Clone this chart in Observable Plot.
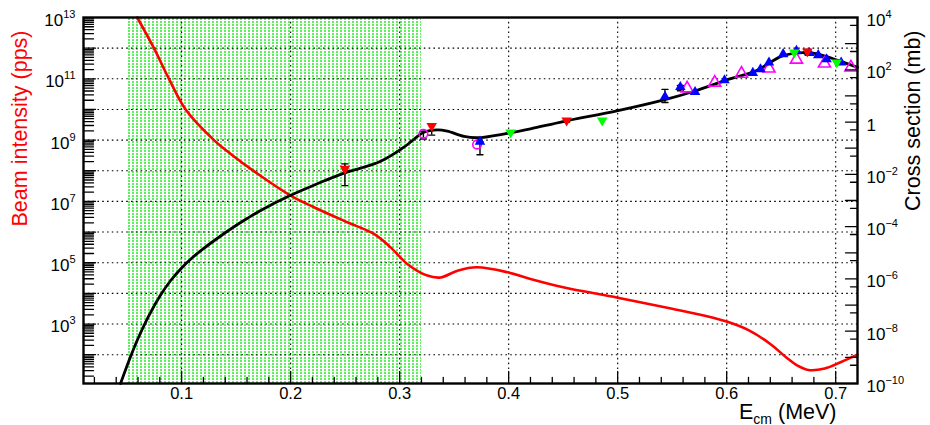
<!DOCTYPE html>
<html><head><meta charset="utf-8">
<script src="https://cdn.jsdelivr.net/npm/d3@7"></script>
<script src="https://cdn.jsdelivr.net/npm/@observablehq/plot@0.6"></script>
<style>
body{margin:0;background:#fff}
svg{font-family:"Liberation Sans",Arial,Helvetica,sans-serif}
</style>
</head><body><div id="chart"></div>
<script>
// ---------------- data ----------------
// Beam intensity (pps), left axis: energy (MeV) and log10(intensity)
const beamE   = [0.0593,0.0746,0.0884,0.1037,0.1297,0.145,0.169,0.200,0.2214,0.252,0.2765,0.2917,0.307,0.3254,0.3376,0.353,0.371,0.3988,0.420,0.45,0.50,0.55,0.58,0.60,0.62,0.64,0.655,0.665,0.675,0.69,0.705,0.72];
const beamLog = [13.0,12.0,11.0,10.0,9.0,8.55,7.92,7.19,6.81,6.32,5.94,5.50,4.96,4.58,4.52,4.74,4.85,4.69,4.47,4.2,3.86,3.5,3.27,3.08,2.80,2.35,1.90,1.64,1.50,1.55,1.76,2.0];
// Cross section (mb), right axis: energy and log10(sigma)
const xsE   = [0.044,0.0532,0.06,0.07,0.08,0.09,0.10,0.11,0.12,0.13,0.145,0.16,0.1725,0.20,0.225,0.2459,0.2826,0.304,0.3223,0.3346,0.3437,0.359,0.3713,0.3988,0.42,0.45,0.5003,0.5434,0.571,0.602,0.627,0.651,0.6697,0.682,0.7035,0.72];
const xsLog = [-10,-8.97,-8.28,-7.40,-6.66,-6.06,-5.58,-5.18,-4.84,-4.53,-4.09,-3.69,-3.38,-2.80,-2.35,-2.0,-1.50,-0.96,-0.39,-0.30,-0.35,-0.55,-0.60,-0.43,-0.26,0.02,0.44,0.86,1.19,1.64,1.96,2.53,2.66,2.62,2.34,2.09];
// measured points (log10 sigma)
const redDownE = [0.2498,0.3294,0.4532,0.674];
const redDownLog = [-1.79,-0.15,0.06,2.70];
const greenDownE = [0.4018,0.4858,0.662,0.701];
const greenDownLog = [-0.40,0.06,2.66,2.28];
const blueUpE = [0.3737,0.5434,0.5575,0.571,0.598,0.624,0.631,0.6388,0.6518,0.664,0.676,0.684,0.6917,0.705];
const blueUpLog = [-0.75,0.97,1.34,1.15,1.60,1.88,2.02,2.28,2.60,2.73,2.64,2.56,2.40,2.28];
const magTriE = [0.5637,0.589,0.6136,0.6388,0.664,0.6897,0.714];
const magTriLog = [1.29,1.51,1.85,2.05,2.39,2.24,2.09];
const magCircE = [0.3218,0.371];
const magCircLog = [-0.45,-0.86];
// error bars (log10 sigma)
const errE  = [0.2498,0.3294,0.3218,0.3737,0.4532,0.5434,0.5575,0.674];
const errLo = [-2.43,-0.50,-0.65,-1.25,0.00,0.75,1.20,2.60];
const errHi = [-1.60,-0.10,-0.35,-0.75,0.12,1.25,1.40,2.78];
// shaded band (MeV)
const bandE = [0.05, 0.32];
// ticks
const xMajor = [0.1,0.2,0.3,0.4,0.5,0.6,0.7];
const xLabels = ["0.1","0.2","0.3","0.4","0.5","0.6","0.7"];
const leftLabelExp = [3,5,7,9,11,13];
const rightLabelExp = [4,2,0,-2,-4,-6,-8,-10];

// ---------------- scales ----------------
const LEFT_LO = 1.06, LEFT_HI = 13, RIGHT_LO = -10, RIGHT_HI = 4;
const toLeft = lg => Math.pow(10, LEFT_LO + (lg - RIGHT_LO) * (LEFT_HI - LEFT_LO) / (RIGHT_HI - RIGHT_LO));
const X0 = 0.01, X1 = 0.72;

const beam = beamE.map((e,i)=>({e, v: Math.pow(10, beamLog[i])}));
const xs = xsE.map((e,i)=>({e, v: toLeft(xsLog[i])}));
const pts = (E,L)=>E.map((e,i)=>({e, v: toLeft(L[i])}));
const errs = errE.map((e,i)=>({e, lo: toLeft(errLo[i]), hi: toLeft(errHi[i])}));

const xMinor = d3.range(1, 36).map(k => k*0.02).filter(v => v > X0 && v < X1 && Math.abs(v*10 - Math.round(v*10)) > 1e-6);
const leftMajor = d3.range(2, 13).map(k => Math.pow(10,k));
const leftMinor = [];
for (let k = 1; k <= 12; k++) for (let m = 2; m <= 9; m++) { const v = m*Math.pow(10,k); if (v > Math.pow(10,LEFT_LO) && v < 1e13) leftMinor.push(v); }
const rightMajor = d3.range(-9, 4).map(k => toLeft(k));
const rightMinor = d3.range(-10, 4).map(k => toLeft(k + Math.log10(5)));

const tickShape = {draw(ctx, l){ ctx.moveTo(0,0); ctx.lineTo(0,-l); }};
const downTri = {draw(ctx, size){
  const y = Math.sqrt(size / (Math.sqrt(3)*3));
  ctx.moveTo(0, y*2); ctx.lineTo(-Math.sqrt(3)*y, -y); ctx.lineTo(Math.sqrt(3)*y, -y); ctx.closePath();
}};

const grid = {stroke:"#000", strokeWidth:1.1, strokeDasharray:"1.6,3.2"};

const plot = Plot.plot({
  width: 930, height: 425,
  marginLeft: 83, marginRight: 73, marginTop: 17, marginBottom: 42,
  x: {domain:[X0,X1], axis:null},
  y: {type:"log", domain:[Math.pow(10,LEFT_LO), 1e13], axis:null},
  style: {background:"#fff", overflow:"visible"},
  marks: [
    Plot.rect([bandE], {x1: d=>d[0], x2: d=>d[1], fill:"#00ee00"}),
    Plot.ruleX(xMajor, {...grid}),
    Plot.ruleY(leftMajor, {...grid}),
    Plot.line(beam, {x:"e", y:"v", stroke:"#ff0000", strokeWidth:2.6, curve:"catmull-rom"}),
    Plot.line(xs, {x:"e", y:"v", stroke:"#000", strokeWidth:2.8, curve:"catmull-rom"}),
    // error bars
    Plot.ruleX(errs, {x:"e", y1:"lo", y2:"hi", stroke:"#000", strokeWidth:1.4}),
    Plot.vector(errs, {x:"e", y:"lo", length:6, rotate:90, anchor:"middle", shape:tickShape, stroke:"#000", strokeWidth:1.4}),
    Plot.vector(errs, {x:"e", y:"hi", length:6, rotate:90, anchor:"middle", shape:tickShape, stroke:"#000", strokeWidth:1.4}),
    // points
    Plot.dot(pts(magCircE, magCircLog), {x:"e", y:"v", r:4.3, stroke:"#ff00ff", strokeWidth:1.6, fill:"none"}),
    Plot.dot(pts(magTriE, magTriLog), {x:"e", y:"v", r:4.5, symbol:"triangle", stroke:"#ff00ff", strokeWidth:1.6, fill:"none"}),
    Plot.dot(pts(blueUpE, blueUpLog), {x:"e", y:"v", r:3.9, symbol:"triangle", fill:"#0000ff", stroke:"none"}),
    Plot.dot(pts(greenDownE, greenDownLog), {x:"e", y:"v", r:3.9, symbol:downTri, fill:"#00ff00", stroke:"none"}),
    Plot.dot(pts(redDownE, redDownLog), {x:"e", y:"v", r:3.9, symbol:downTri, fill:"#ff0000", stroke:"none"}),
    // axis ticks (inside)
    Plot.vector(xMajor, {x:d=>d, frameAnchor:"bottom", length:12, rotate:0, anchor:"start", shape:tickShape, stroke:"#000", strokeWidth:1.3}),
    Plot.vector(xMinor, {x:d=>d, frameAnchor:"bottom", length:6, rotate:0, anchor:"start", shape:tickShape, stroke:"#000", strokeWidth:1.3}),
    Plot.vector(leftMajor, {y:d=>d, frameAnchor:"left", length:12, rotate:90, anchor:"start", shape:tickShape, stroke:"#000", strokeWidth:1.3}),
    Plot.vector(leftMinor, {y:d=>d, frameAnchor:"left", length:10, rotate:90, anchor:"start", shape:tickShape, stroke:"#000", strokeWidth:1.3}),
    Plot.vector(rightMajor, {y:d=>d, frameAnchor:"right", length:12, rotate:-90, anchor:"start", shape:tickShape, stroke:"#000", strokeWidth:1.3}),
    Plot.vector(rightMinor, {y:d=>d, frameAnchor:"right", length:7, rotate:-90, anchor:"start", shape:tickShape, stroke:"#000", strokeWidth:1.3}),
    Plot.frame({stroke:"#000", strokeWidth:2.4}),
    // tick labels
    Plot.text(xMajor, {x:d=>d, text:(d,i)=>xLabels[i], frameAnchor:"bottom", lineAnchor:"top", dy:4, fontSize:16.5}),
    Plot.text(leftLabelExp, {y:e=>Math.pow(10,e), text:e=>"10^"+e, frameAnchor:"left", textAnchor:"end", dx:-8, dy:3, fontSize:17}),
    Plot.text(rightLabelExp, {y:e=>toLeft(e), text:e=> e===0 ? "1" : "10^"+e, frameAnchor:"right", textAnchor:"start", dx:9, dy:3, fontSize:17}),
    // titles
    Plot.text(["Beam intensity (pps)"], {text:d=>d, frameAnchor:"top-left", dx:-63, dy:13, rotate:-90, textAnchor:"end", lineAnchor:"middle", fontSize:21.5, fill:"#ff0000"}),
    Plot.text(["Cross section (mb)"], {text:d=>d, frameAnchor:"top-right", dx:56, dy:13, rotate:-90, textAnchor:"end", lineAnchor:"middle", fontSize:21.5, fill:"#000"}),
    Plot.text(["E_cm (MeV)"], {text:d=>d, frameAnchor:"bottom-right", dx:-21, dy:35, textAnchor:"end", lineAnchor:"bottom", fontSize:21.5})
  ]
});

// ---- post-processing: pattern fill, superscripts, subscript ----
const ns = "http://www.w3.org/2000/svg";
const defs = document.createElementNS(ns, "defs");
defs.innerHTML = '<pattern id="greenDots" width="4" height="3" patternUnits="userSpaceOnUse"><rect width="4" height="3" fill="#ffffff"/><rect x="0" y="0" width="2" height="2" fill="#5cf05c"/></pattern>';
plot.insertBefore(defs, plot.firstChild);
plot.querySelectorAll('g[aria-label="rect"] rect').forEach(r => r.setAttribute("fill", "url(#greenDots)"));

plot.querySelectorAll("text").forEach(t => {
  const s = t.textContent;
  const m = s.match(/^10\^(-?\d+)$/);
  if (m) {
    t.textContent = "10";
    const sp = document.createElementNS(ns, "tspan");
    sp.setAttribute("dy", "-8");
    sp.setAttribute("font-size", "11");
    sp.textContent = m[1].replace("-", "\u2212");
    t.appendChild(sp);
  } else if (s === "E_cm (MeV)") {
    t.textContent = "E";
    const sub = document.createElementNS(ns, "tspan");
    sub.setAttribute("dy", "5"); sub.setAttribute("font-size", "14"); sub.textContent = "cm";
    const rest = document.createElementNS(ns, "tspan");
    rest.setAttribute("dy", "-5"); rest.textContent = " (MeV)";
    t.appendChild(sub); t.appendChild(rest);
  }
});

document.getElementById("chart").appendChild(plot);
</script>
</body></html>
